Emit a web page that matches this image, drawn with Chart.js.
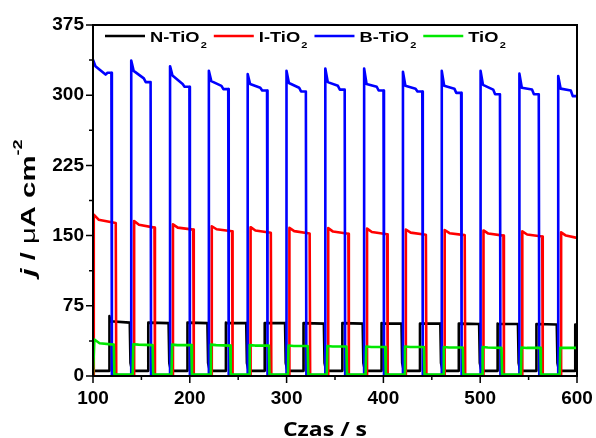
<!DOCTYPE html>
<html><head><meta charset="utf-8">
<script src="https://cdn.jsdelivr.net/npm/chart.js@4.4.1/dist/chart.umd.min.js"></script>
<style>html,body{margin:0;padding:0;background:#fff}#wrap{width:596px;height:438px;position:relative}</style>
</head><body><div id="wrap"><canvas id="c" width="596" height="438"></canvas></div>
<script>
// ---- axis ranges / tick labels ----
const xTickValues = [100, 200, 300, 400, 500, 600];
const yTickValues = [0, 75, 150, 225, 300, 375];
const xMinorTicks = [150, 250, 350, 450, 550];
const yMinorTicks = [37.5, 112.5, 187.5, 262.5, 337.5];

// ---- series names ----
const seriesNames = ['N-TiO2', 'I-TiO2', 'B-TiO2', 'TiO2'];

// ---- N-TiO2 (black): light-on / light-off times (s) and currents (µA cm-2) ----
const nOn    = [117, 157.1, 197.2, 237.3, 277.4, 317.5, 357.6, 397.7, 437.8, 477.9, 518, 558.1, 598.2];
const nOff   = [138, 178.1, 218.2, 258.3, 298.4, 338.5, 378.6, 418.7, 458.8, 498.9, 539, 579.1, 600];
const nPeak  = [64, 57, 57, 57, 56.5, 56.5, 56.5, 56.5, 56, 56, 56, 55.5, 55];
const nShoulder = [58.5, 57, 57, 56.5, 56.5, 56.5, 56.5, 56, 56, 56, 55.5, 55.5, 55];
const nEnd   = [57, 56.5, 56.5, 56.5, 56.5, 56, 56, 56, 56, 55.5, 55.5, 55, 55];
const nDark  = 5.5;
const nFallTail = [[0.7, 14], [2, 7.5], [4, 5.5]];

// ---- I-TiO2 (red) ----
const iOn    = [100.8, 142.5, 182.6, 222.7, 262.8, 302.9, 343.0, 383.1, 423.2, 463.3, 503.4, 543.5, 583.6];
const iOff   = [123.5, 163.5, 203.6, 243.7, 283.7, 323.8, 363.8, 403.9, 443.9, 484, 524, 564.1, 600];
const iPeak  = [172.5, 165.5, 162, 160, 159, 158.2, 158, 157.5, 156.5, 156, 155.5, 154.5, 153.5];
const iMid   = [167, 161.5, 158.5, 156.8, 155.5, 154.8, 154.3, 153.8, 153.2, 152.6, 152.2, 151.2, 150];
const iEnd   = [163.5, 158.5, 156.4, 154.6, 153, 152.3, 152, 151.5, 151, 150.5, 150, 149, 147.5];
const iDark  = 0.5;
const iFallTail = [[0.5, 0.5]];

// ---- B-TiO2 (blue) ----
const bOn    = [100, 139.5, 179.6, 219.7, 259.8, 299.9, 340.0, 380.1, 420.2, 460.3, 500.4, 540.5, 580.6];
const bOff   = [119, 159.5, 199.6, 239.7, 279.8, 319.9, 360.0, 400.1, 440.2, 480.3, 520.4, 560.5, 600];
const bPeak  = [338, 337, 331, 326, 322.5, 326, 328.5, 328.5, 325, 326, 326, 323, 320.5];
const bShoulder = [331, 326, 321, 315, 312, 313, 314, 312, 310, 310, 311, 308, 307];
const bMid   = [322, 318, 312, 310, 308, 308, 310, 309, 307, 307, 306, 306, 305];
const bEnd   = [324, 314, 309, 306.5, 305, 304, 306, 305, 304, 302.5, 301, 301, 299];
const bDark  = 1;
const bFallTail = [[0.5, 1]];

// ---- TiO2 (green) ----
const gOn    = [100.8, 141, 181.1, 221.2, 261.3, 301.4, 341.5, 381.6, 421.7, 461.8, 501.9, 542, 582.1];
const gOff   = [121.5, 161.6, 201.6, 241.7, 281.7, 321.8, 361.8, 401.9, 441.9, 482, 522, 562.1, 600];
const gPeak  = [39, 34, 33.5, 33.5, 33, 32.5, 32, 31.5, 31.5, 31, 31, 30.5, 30];
const gMid   = [35, 33.5, 33, 33, 32.5, 32, 31.5, 31, 31, 30.5, 30.5, 30, 30];
const gEnd   = [33.5, 33, 33, 32.5, 32.5, 32, 31.5, 31, 31, 30.5, 30, 30, 30];
const gDark  = 1.5;
const gFallTail = [[0.6, 1.5]];

const X_MIN = 100, X_MAX = 600;

// Build a chopped-light trace from the read values.
// profile: list of [seconds after light-on, values per cycle]
function buildTrace(on, off, profile, end, dark, fallTail) {
  const pts = [];
  if (on[0] > X_MIN) pts.push({x: X_MIN, y: dark});
  for (let i = 0; i < on.length; i++) {
    if (on[i] > X_MIN) pts.push({x: on[i], y: dark});
    for (const [dt, vals] of profile) {
      const x = on[i] + dt;
      if (x < off[i]) pts.push({x: x, y: vals[i]});
    }
    if (off[i] < X_MAX) {
      pts.push({x: off[i], y: end[i]});
      for (const [dt, v] of fallTail) pts.push({x: off[i] + dt, y: v});
    } else {
      pts.push({x: X_MAX, y: end[i]});
    }
  }
  return pts;
}

const nData = buildTrace(nOn, nOff, [[0, nPeak], [0.8, nShoulder]], nEnd, nDark, nFallTail);
const iData = buildTrace(iOn, iOff, [[0, iPeak], [5, iMid]], iEnd, iDark, iFallTail);
const bData = buildTrace(bOn, bOff, [[0, bPeak], [2.5, bShoulder], [13, bMid], [15, bEnd]], bEnd, bDark, bFallTail);
const gData = buildTrace(gOn, gOff, [[0.6, gPeak], [6, gMid]], gEnd, gDark, gFallTail);

const colors = ['#000000', '#ff0000', '#0000ff', '#00e800'];

const FONT = "'Liberation Sans', Arial, sans-serif";

// frame + ticks
const framePlugin = {
  id: 'frame',
  afterDatasetsDraw(chart) {
    const {ctx, chartArea: a, scales} = chart;
    ctx.save();
    ctx.strokeStyle = '#000';
    ctx.lineWidth = 2;
    ctx.strokeRect(a.left, a.top, a.right - a.left, a.bottom - a.top);
    ctx.lineWidth = 1.5;
    ctx.beginPath();
    for (const v of xTickValues) { const p = scales.x.getPixelForValue(v); ctx.moveTo(p, a.bottom); ctx.lineTo(p, a.bottom + 7); }
    for (const v of xMinorTicks) { const p = scales.x.getPixelForValue(v); ctx.moveTo(p, a.bottom); ctx.lineTo(p, a.bottom + 4); }
    for (const v of yTickValues) { const p = scales.y.getPixelForValue(v); ctx.moveTo(a.left, p); ctx.lineTo(a.left - 7, p); }
    for (const v of yMinorTicks) { const p = scales.y.getPixelForValue(v); ctx.moveTo(a.left, p); ctx.lineTo(a.left - 4, p); }
    ctx.stroke();
    ctx.restore();
  }
};

// draw text (horizontally stretched by sx) with a subscript "2" at the end of TiO2
function drawChem(ctx, label, x, y, size, sx) {
  const m = label.match(/^(.*?)(\d)$/);
  ctx.save();
  ctx.translate(x, y);
  ctx.scale(sx, 1);
  ctx.font = 'bold ' + size + 'px ' + FONT;
  ctx.textBaseline = 'alphabetic';
  ctx.textAlign = 'left';
  const main = m ? m[1] : label;
  ctx.fillText(main, 0, 0);
  let w = ctx.measureText(main).width;
  if (m) {
    ctx.font = 'bold ' + Math.round(size * 0.62) + 'px ' + FONT;
    ctx.fillText(m[2], w + 1, size * 0.4);
    w += 1 + ctx.measureText(m[2]).width;
  }
  ctx.restore();
  return w * sx;
}

const legendPlugin = {
  id: 'innerLegend',
  afterDraw(chart) {
    const {ctx, chartArea: a} = chart;
    ctx.save();
    let x = a.left + 12;
    const y = 36;
    chart.data.datasets.forEach((ds) => {
      ctx.strokeStyle = ds.borderColor;
      ctx.lineWidth = 2.5;
      ctx.beginPath(); ctx.moveTo(x, y); ctx.lineTo(x + 40, y); ctx.stroke();
      x += 45;
      ctx.fillStyle = '#000';
      const w = drawChem(ctx, ds.label, x, 42, 15, 1.22);
      x += w + 7;
    });
    ctx.restore();
  }
};

const titlePlugin = {
  id: 'axisTitles',
  afterDraw(chart) {
    const {ctx} = chart;
    ctx.save();
    ctx.fillStyle = '#000';
    // x title
    ctx.save();
    ctx.translate(325, 436);
    ctx.scale(1.15, 1);
    ctx.font = "bold 20px 'Open Sans', " + FONT;
    ctx.textAlign = 'center';
    ctx.textBaseline = 'alphabetic';
    ctx.fillText('Czas / s', 0, 0);
    ctx.restore();
    // y title, rotated: "j / µA cm-2"
    const parts = [
      {t: 'j', f: "italic bold 21px " + FONT, dy: 0},
      {t: ' / ', f: "bold 21px " + FONT, dy: 0},
      {t: 'μ', f: "21px " + FONT, dy: 0},
      {t: 'A cm', f: "bold 21px " + FONT, dy: 0},
      {t: '-2', f: "bold 13px " + FONT, dy: -13}
    ];
    let total = 0;
    for (const p of parts) { ctx.font = p.f; p.w = ctx.measureText(p.t).width; total += p.w; }
    ctx.translate(35, 208);
    ctx.rotate(-Math.PI / 2);
    const sx = 137 / total;
    ctx.scale(sx, 1);
    ctx.textAlign = 'left';
    let x = -total / 2;
    for (const p of parts) { ctx.font = p.f; ctx.fillText(p.t, x, p.dy); x += p.w; }
    ctx.restore();
  }
};

const lineDs = (label, data, color, order) => ({
  label, data, borderColor: color, backgroundColor: color, borderWidth: 2.6,
  pointRadius: 0, tension: 0, fill: false, order, borderJoinStyle: 'round'
});

new Chart(document.getElementById('c'), {
  type: 'line',
  data: {
    datasets: [
      lineDs(seriesNames[0], nData, colors[0], 4),
      lineDs(seriesNames[1], iData, colors[1], 3),
      lineDs(seriesNames[2], bData, colors[2], 2),
      lineDs(seriesNames[3], gData, colors[3], 1)
    ]
  },
  options: {
    responsive: false,
    animation: false,
    devicePixelRatio: 1,
    parsing: false,
    layout: {padding: {top: 25, right: 19, left: 0, bottom: 0}},
    plugins: {legend: {display: false}, tooltip: {enabled: false}, title: {display: false}},
    scales: {
      x: {
        type: 'linear', min: X_MIN, max: X_MAX,
        afterFit(s) { s.height = 62; s.paddingLeft = 0; s.paddingRight = 0; },
        afterBuildTicks(s) { s.ticks = xTickValues.map(v => ({value: v})); },
        grid: {display: false, drawTicks: false},
        border: {display: false},
        ticks: {color: '#000', padding: 11, maxRotation: 0, font: {family: FONT, size: 19, weight: 'bold'}}
      },
      y: {
        type: 'linear', min: 0, max: 375,
        afterFit(s) { s.width = 93; s.paddingTop = 0; s.paddingBottom = 0; },
        afterBuildTicks(s) { s.ticks = yTickValues.map(v => ({value: v})); },
        grid: {display: false, drawTicks: false},
        border: {display: false},
        ticks: {color: '#000', padding: 9, font: {family: FONT, size: 19, weight: 'bold'}}
      }
    }
  },
  plugins: [framePlugin, legendPlugin, titlePlugin]
});
</script>
</body></html>
